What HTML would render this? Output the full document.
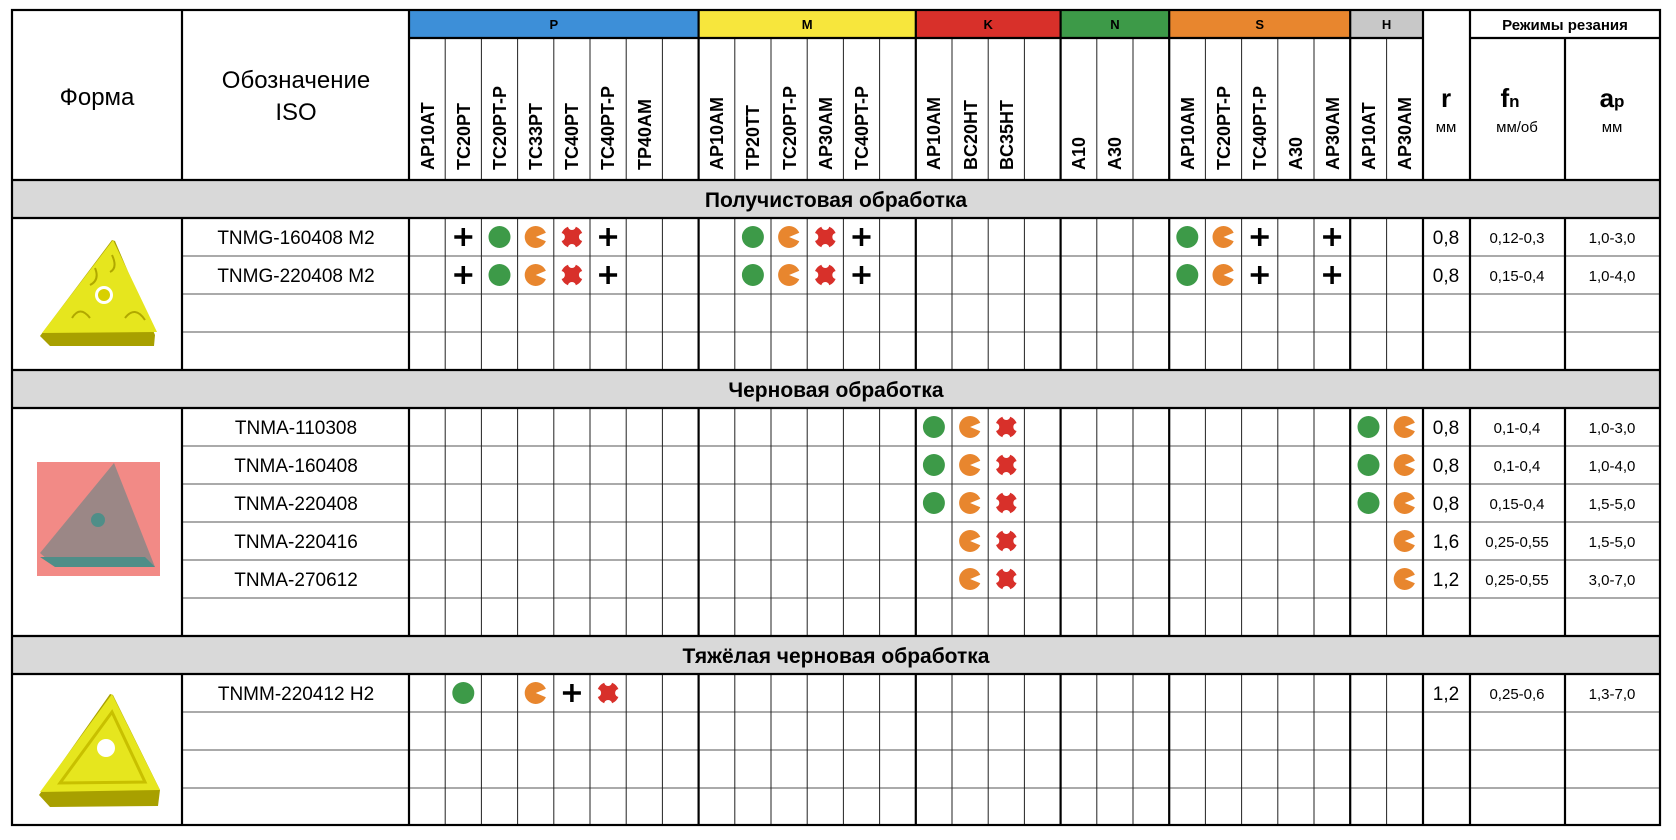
<!DOCTYPE html>
<html><head><meta charset="utf-8"><style>
html,body{margin:0;padding:0;background:#fff;}
svg{display:block;}
text{font-family:"Liberation Sans",Arial,sans-serif;fill:#000;}
.rv{font-weight:bold;font-size:18px;}
.cd{font-size:19px;text-anchor:middle;}
.sec{font-weight:bold;font-size:21px;text-anchor:middle;}
.sm{font-size:15px;text-anchor:middle;}
</style></head><body>
<svg width="1676" height="840" viewBox="0 0 1676 840" xmlns="http://www.w3.org/2000/svg">
<defs>
<g id="g"><circle r="11" fill="#3d9a48"/></g>
<g id="o"><circle r="11" fill="#e8862e"/><path d="M0,0 L12,-5 L12,5 Z" fill="#fff"/></g>
<g id="r"><circle r="11" fill="#d8302a"/><circle cx="0" cy="-11" r="4" fill="#fff"/><circle cx="0" cy="11" r="4" fill="#fff"/><circle cx="-11" cy="0" r="4" fill="#fff"/><circle cx="11" cy="0" r="4" fill="#fff"/></g>
<g id="p"><path d="M-9,0 H9 M0,-9 V9" stroke="#000" stroke-width="3.5"/></g>
</defs>
<!-- band colors -->
<rect x="409" y="10" width="289.6" height="28" fill="#3d8fd8"/>
<rect x="698.6" y="10" width="217.2" height="28" fill="#f7e63c"/>
<rect x="915.8" y="10" width="144.8" height="28" fill="#d8302a"/>
<rect x="1060.6" y="10" width="108.6" height="28" fill="#3d9a48"/>
<rect x="1169.2" y="10" width="181" height="28" fill="#e8862e"/>
<rect x="1350.2" y="10" width="72.8" height="28" fill="#c8c8c8"/>
<!-- band letters -->
<g font-weight="bold" font-size="13" text-anchor="middle">
<text x="553.8" y="29">P</text><text x="807.2" y="29">M</text><text x="988.2" y="29">K</text><text x="1114.9" y="29">N</text><text x="1259.7" y="29">S</text><text x="1386.6" y="29">H</text>
<text x="1565" y="30" font-size="15">Режимы резания</text>
</g>
<!-- thin horizontal row lines -->
<g stroke="#555" stroke-width="1">
<path d="M182,256H1660M182,294H1660M182,332H1660"/>
<path d="M182,446H1660M182,484H1660M182,522H1660M182,560H1660M182,598H1660"/>
<path d="M182,712H1660M182,750H1660M182,788H1660"/>
</g>
<!-- thin vertical data lines -->
<g stroke="#222" stroke-width="1">
<path d="M445.2,38V825M481.4,38V825M517.6,38V825M553.8,38V825M590,38V825M626.2,38V825M662.4,38V825
M734.8,38V825M771,38V825M807.2,38V825M843.4,38V825M879.6,38V825
M952,38V825M988.2,38V825M1024.4,38V825
M1096.8,38V825M1133,38V825
M1205.4,38V825M1241.6,38V825M1277.8,38V825M1314,38V825
M1386.6,38V825"/>
</g>
<!-- section bands (over thin lines) -->
<rect x="12" y="180" width="1648" height="38" fill="#d9d9d9"/>
<rect x="12" y="370" width="1648" height="38" fill="#d9d9d9"/>
<rect x="12" y="636" width="1648" height="38" fill="#d9d9d9"/>
<!-- thick lines -->
<g stroke="#000" stroke-width="2.2" fill="none">
<rect x="12" y="10" width="1648" height="815"/>
<path d="M182,10V180M409,10V180M698.6,10V180M915.8,10V180M1060.6,10V180M1169.2,10V180M1350.2,10V180M1423,10V180M1470,10V180M1565,38V180"/>
<path d="M182,218V370M409,218V370M698.6,218V370M915.8,218V370M1060.6,218V370M1169.2,218V370M1350.2,218V370M1423,218V370M1470,218V370M1565,218V370"/>
<path d="M182,408V636M409,408V636M698.6,408V636M915.8,408V636M1060.6,408V636M1169.2,408V636M1350.2,408V636M1423,408V636M1470,408V636M1565,408V636"/>
<path d="M182,674V825M409,674V825M698.6,674V825M915.8,674V825M1060.6,674V825M1169.2,674V825M1350.2,674V825M1423,674V825M1470,674V825M1565,674V825"/>
<path d="M409,38H1423M1470,38H1660M12,180H1660M12,218H1660M12,370H1660M12,408H1660M12,636H1660M12,674H1660"/>
</g>
<!-- header texts -->
<text x="97" y="105" font-size="24" text-anchor="middle">Форма</text>
<text x="296" y="88" font-size="24" text-anchor="middle">Обозначение</text>
<text x="296" y="120" font-size="24" text-anchor="middle">ISO</text>
<text x="1446" y="107" font-size="26" font-weight="bold" text-anchor="middle">r</text>
<text x="1446" y="132" font-size="15" text-anchor="middle">мм</text>
<text x="1510" y="107" font-size="26" font-weight="bold" text-anchor="middle">f<tspan font-size="17" dy="0">n</tspan></text>
<text x="1517" y="132" font-size="15" text-anchor="middle">мм/об</text>
<text x="1612" y="107" font-size="26" font-weight="bold" text-anchor="middle">a<tspan font-size="17">p</tspan></text>
<text x="1612" y="132" font-size="15" text-anchor="middle">мм</text>
<!-- rotated labels -->
<g class="rv">
<text transform="translate(434,170) rotate(-90)">AP10AT</text>
<text transform="translate(470,170) rotate(-90)">TC20PT</text>
<text transform="translate(506,170) rotate(-90)">TC20PT-P</text>
<text transform="translate(542,170) rotate(-90)">TC33PT</text>
<text transform="translate(578,170) rotate(-90)">TC40PT</text>
<text transform="translate(614,170) rotate(-90)">TC40PT-P</text>
<text transform="translate(651,170) rotate(-90)">TP40AM</text>
<text transform="translate(723,170) rotate(-90)">AP10AM</text>
<text transform="translate(759,170) rotate(-90)">TP20TT</text>
<text transform="translate(796,170) rotate(-90)">TC20PT-P</text>
<text transform="translate(832,170) rotate(-90)">AP30AM</text>
<text transform="translate(868,170) rotate(-90)">TC40PT-P</text>
<text transform="translate(940,170) rotate(-90)">AP10AM</text>
<text transform="translate(977,170) rotate(-90)">BC20HT</text>
<text transform="translate(1013,170) rotate(-90)">BC35HT</text>
<text transform="translate(1085,170) rotate(-90)">A10</text>
<text transform="translate(1121,170) rotate(-90)">A30</text>
<text transform="translate(1194,170) rotate(-90)">AP10AM</text>
<text transform="translate(1230,170) rotate(-90)">TC20PT-P</text>
<text transform="translate(1266,170) rotate(-90)">TC40PT-P</text>
<text transform="translate(1302,170) rotate(-90)">A30</text>
<text transform="translate(1339,170) rotate(-90)">AP30AM</text>
<text transform="translate(1375,170) rotate(-90)">AP10AT</text>
<text transform="translate(1411,170) rotate(-90)">AP30AM</text>
</g>
<!-- section titles -->
<text class="sec" x="836" y="207">Получистовая обработка</text>
<text class="sec" x="836" y="397">Черновая обработка</text>
<text class="sec" x="836" y="663">Тяжёлая черновая обработка</text>
<!-- codes -->
<text class="cd" x="296" y="244">TNMG-160408 M2</text>
<text class="cd" x="296" y="282">TNMG-220408 M2</text>
<text class="cd" x="296" y="434">TNMA-110308</text>
<text class="cd" x="296" y="472">TNMA-160408</text>
<text class="cd" x="296" y="510">TNMA-220408</text>
<text class="cd" x="296" y="548">TNMA-220416</text>
<text class="cd" x="296" y="586">TNMA-270612</text>
<text class="cd" x="296" y="700">TNMM-220412 H2</text>
<!-- r fn ap -->
<g>
<text class="cd" x="1446" y="244">0,8</text><text class="sm" x="1517" y="243">0,12-0,3</text><text class="sm" x="1612" y="243">1,0-3,0</text>
<text class="cd" x="1446" y="282">0,8</text><text class="sm" x="1517" y="281">0,15-0,4</text><text class="sm" x="1612" y="281">1,0-4,0</text>
<text class="cd" x="1446" y="434">0,8</text><text class="sm" x="1517" y="433">0,1-0,4</text><text class="sm" x="1612" y="433">1,0-3,0</text>
<text class="cd" x="1446" y="472">0,8</text><text class="sm" x="1517" y="471">0,1-0,4</text><text class="sm" x="1612" y="471">1,0-4,0</text>
<text class="cd" x="1446" y="510">0,8</text><text class="sm" x="1517" y="509">0,15-0,4</text><text class="sm" x="1612" y="509">1,5-5,0</text>
<text class="cd" x="1446" y="548">1,6</text><text class="sm" x="1517" y="547">0,25-0,55</text><text class="sm" x="1612" y="547">1,5-5,0</text>
<text class="cd" x="1446" y="586">1,2</text><text class="sm" x="1517" y="585">0,25-0,55</text><text class="sm" x="1612" y="585">3,0-7,0</text>
<text class="cd" x="1446" y="700">1,2</text><text class="sm" x="1517" y="699">0,25-0,6</text><text class="sm" x="1612" y="699">1,3-7,0</text>
</g>
<!-- symbols row 1 (y=237) -->
<use href="#p" x="463.3" y="237"/><use href="#g" x="499.5" y="237"/><use href="#o" x="535.7" y="237"/><use href="#r" x="571.9" y="237"/><use href="#p" x="608.1" y="237"/>
<use href="#g" x="752.9" y="237"/><use href="#o" x="789.1" y="237"/><use href="#r" x="825.3" y="237"/><use href="#p" x="861.5" y="237"/>
<use href="#g" x="1187.3" y="237"/><use href="#o" x="1223.5" y="237"/><use href="#p" x="1259.7" y="237"/><use href="#p" x="1332.1" y="237"/>
<!-- row 2 (y=275) -->
<use href="#p" x="463.3" y="275"/><use href="#g" x="499.5" y="275"/><use href="#o" x="535.7" y="275"/><use href="#r" x="571.9" y="275"/><use href="#p" x="608.1" y="275"/>
<use href="#g" x="752.9" y="275"/><use href="#o" x="789.1" y="275"/><use href="#r" x="825.3" y="275"/><use href="#p" x="861.5" y="275"/>
<use href="#g" x="1187.3" y="275"/><use href="#o" x="1223.5" y="275"/><use href="#p" x="1259.7" y="275"/><use href="#p" x="1332.1" y="275"/>
<!-- rough rows -->
<use href="#g" x="933.9" y="427"/><use href="#o" x="970.1" y="427"/><use href="#r" x="1006.3" y="427"/><use href="#g" x="1368.5" y="427"/><use href="#o" x="1404.7" y="427"/>
<use href="#g" x="933.9" y="465"/><use href="#o" x="970.1" y="465"/><use href="#r" x="1006.3" y="465"/><use href="#g" x="1368.5" y="465"/><use href="#o" x="1404.7" y="465"/>
<use href="#g" x="933.9" y="503"/><use href="#o" x="970.1" y="503"/><use href="#r" x="1006.3" y="503"/><use href="#g" x="1368.5" y="503"/><use href="#o" x="1404.7" y="503"/>
<use href="#o" x="970.1" y="541"/><use href="#r" x="1006.3" y="541"/><use href="#o" x="1404.7" y="541"/>
<use href="#o" x="970.1" y="579"/><use href="#r" x="1006.3" y="579"/><use href="#o" x="1404.7" y="579"/>
<!-- heavy -->
<use href="#g" x="463.3" y="693"/><use href="#o" x="535.7" y="693"/><use href="#p" x="571.9" y="693"/><use href="#r" x="608.1" y="693"/>
<!-- insert images -->
<g>
<polygon points="115,241 155,335 154,346 50,346 40,336 112,240" fill="#a8a000"/>
<polygon points="113,240 157,332 42,333" fill="#e6e61e"/>
<circle cx="104" cy="295" r="9" fill="#fff"/><circle cx="104" cy="295" r="6" fill="#d8d000"/>
<path d="M112,255 Q118,268 110,272 M72,318 Q80,305 90,318 M125,318 Q135,305 145,320 M95,268 Q100,280 90,285" stroke="#b0a800" stroke-width="2" fill="none"/>
</g>
<g>
<rect x="37" y="462" width="123" height="114" fill="#f28a86"/>
<polygon points="114,463 155,567 55,566 40,553" fill="#9b8786"/>
<polygon points="40,557 145,557 155,567 55,567" fill="#4f8e88"/>
<circle cx="98" cy="520" r="7" fill="#4f8e88"/>
</g>
<g>
<polygon points="113,695 160,790 158,806 50,807 39,795 110,694" fill="#a8a000"/>
<polygon points="112,694 160,790 40,792" fill="#e6e61e"/>
<polygon points="112,712 145,782 60,783" fill="none" stroke="#c8c000" stroke-width="3"/>
<circle cx="106" cy="748" r="9" fill="#fff"/>
</g>
</svg>
</body></html>
